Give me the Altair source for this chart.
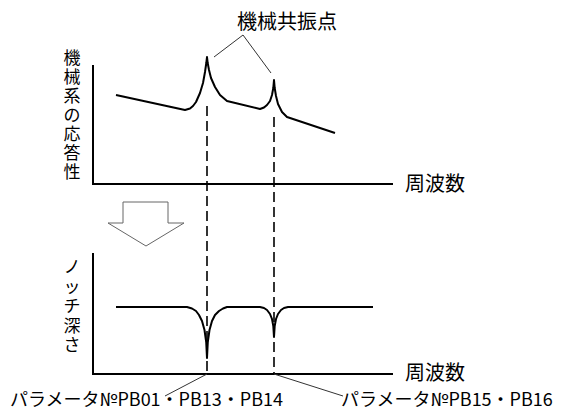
import altair as alt
import pandas as pd

# Diagram coordinates (x: frequency axis position, y: response/depth level, screen-like units)
resp_x = [116, 185, 190, 193, 196, 200, 203, 205, 206.3, 207, 207.7, 209, 211, 215, 220, 227,
          260, 264, 267, 270, 272, 273.3, 274, 274.7, 276, 278, 282, 287, 335]
resp_y = [95, 110, 108.5, 106, 102, 93, 83, 72, 63, 57, 63, 70, 78, 87, 95, 101,
          109, 107.5, 105, 101, 95, 88, 80, 88, 96, 104, 112, 117, 133]

notch_x = [116, 187, 192, 196, 199, 202, 204.5, 206.2, 207, 207.8, 209.5, 212, 215, 219, 223, 227,
           260, 264, 267, 270, 272, 273.3, 274, 274.7, 276, 278, 281, 284, 288, 373]
notch_y = [307, 307, 308.5, 311, 315, 321, 330, 342, 358, 342, 330, 321, 315, 311, 308.5, 307,
           307, 308, 310, 314, 319, 326, 337, 326, 319, 314, 310, 308, 307, 307]

axes_x = [[93, 93, 393], [93, 93, 393]]
axes_y = [[65, 184, 184], [253, 374, 374]]

dash_x = [[207, 207], [274, 274]]
dash_y = [[106, 374], [117, 374]]

callout_x = [[214, 243, 271], [207, 165], [274, 343]]
callout_y = [[57, 35, 73], [374, 396], [374, 396]]

arrow_x = [123, 123, 168, 168, 184, 146, 108, 123]
arrow_y = [223, 202, 202, 223, 223, 246, 223, 223]

title_top = "機械共振点"
ylab_top = "機\n械\n系\nの\n応\n答\n性"
ylab_bottom = "ノ\nッ\nチ\n深\nさ"
xlab = "周波数"
param1 = "パラメータ№PB01・PB13・PB14"
param2 = "パラメータ№PB15・PB16"


def segs(xs, ys):
    rows = []
    for s, (sx, sy) in enumerate(zip(xs, ys)):
        for i, (a, b) in enumerate(zip(sx, sy)):
            rows.append({"seg": s, "i": i, "x": a, "y": b})
    return pd.DataFrame(rows)


X = alt.X("x:Q", scale=alt.Scale(domain=[8, 562], nice=False, zero=False), axis=None)
Y = alt.Y("y:Q", scale=alt.Scale(domain=[8, 410], nice=False, zero=False, reverse=True), axis=None)
FONT = "Noto Sans CJK JP"


def lines(df, **kw):
    return alt.Chart(df).mark_line(**kw).encode(x=X, y=Y, detail="seg:N", order="i:Q")


axes = lines(segs(axes_x, axes_y), color="black", strokeWidth=2, strokeCap="butt")
curves = lines(segs([resp_x, notch_x], [resp_y, notch_y]), color="black", strokeWidth=2,
               strokeJoin="round")
dashes = lines(segs(dash_x, dash_y), color="black", strokeWidth=1.6, strokeDash=[10, 5])
callouts = lines(segs(callout_x, callout_y), color="#333333", strokeWidth=1)
arrow = lines(segs([arrow_x], [arrow_y]), color="#666666", strokeWidth=1)

texts = pd.DataFrame([
    {"t": title_top, "x": 287, "y": 23, "k": "title"},
    {"t": xlab, "x": 405, "y": 185, "k": "xl"},
    {"t": xlab, "x": 405, "y": 374, "k": "xl"},
    {"t": param1, "x": 10, "y": 401, "k": "p"},
    {"t": param2, "x": 341, "y": 401, "k": "p"},
])

title_t = alt.Chart(texts[texts.k == "title"]).mark_text(
    font=FONT, fontSize=20, align="center", baseline="middle", color="black"
).encode(x=X, y=Y, text="t:N")
xl_t = alt.Chart(texts[texts.k == "xl"]).mark_text(
    font=FONT, fontSize=20, align="left", baseline="middle", color="black"
).encode(x=X, y=Y, text="t:N")
p_t = alt.Chart(texts[texts.k == "p"]).mark_text(
    font=FONT, fontSize=18, align="left", baseline="middle", color="black"
).encode(x=X, y=Y, text="t:N")

vt = pd.DataFrame([{"t": ylab_top, "x": 72, "y": 51}])
vb = pd.DataFrame([{"t": ylab_bottom, "x": 72, "y": 260}])
v1 = alt.Chart(vt).mark_text(
    font=FONT, fontSize=17, align="center", baseline="top", lineBreak="\n", lineHeight=19,
    color="black"
).encode(x=X, y=Y, text="t:N")
v2 = alt.Chart(vb).mark_text(
    font=FONT, fontSize=17, align="center", baseline="top", lineBreak="\n", lineHeight=19.5,
    color="black"
).encode(x=X, y=Y, text="t:N")

chart = alt.layer(axes, dashes, curves, callouts, arrow, title_t, xl_t, p_t, v1, v2).properties(
    width=554, height=402, padding=0, autosize="none", background="white"
).configure_view(stroke=None)

chart.save("out.html", embed_options={"renderer": "svg", "actions": False})
